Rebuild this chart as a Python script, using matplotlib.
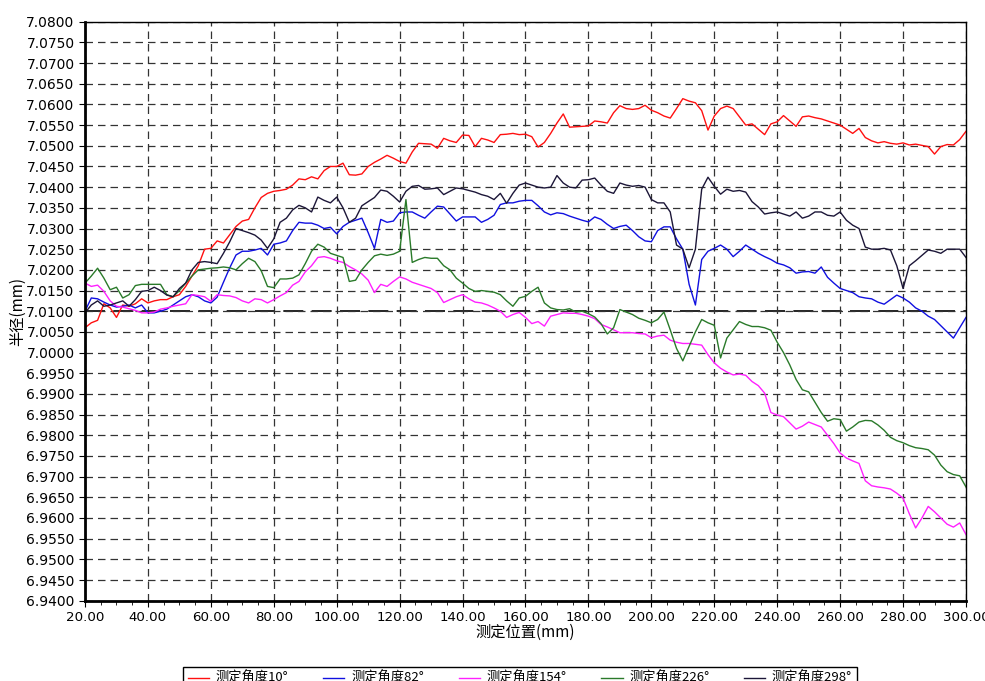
import numpy as np
import matplotlib
matplotlib.use('Agg')
import matplotlib.pyplot as plt
from matplotlib.ticker import MultipleLocator, FormatStrFormatter

plt.rcParams['font.family'] = ['DejaVu Sans', 'Noto Sans CJK SC']

# measuring position (mm), one sample every 2 mm
position = np.arange(20, 302, 2)

labels = ['测定角度10°', '测定角度82°', '测定角度154°', '测定角度226°', '测定角度298°']
colors = ['#ff1010', '#1010e0', '#ff20ff', '#2a7a2a', '#1c1638']

r10 = [7.0060, 7.0072, 7.0078, 7.0118, 7.0108, 7.0085, 7.0115, 7.0112, 7.0118, 7.0130,
       7.0120, 7.0125, 7.0128, 7.0128, 7.0135, 7.0140, 7.0160, 7.0185, 7.0210, 7.0250,
       7.0252, 7.0270, 7.0265, 7.0285, 7.0305, 7.0318, 7.0322, 7.0350, 7.0375, 7.0385,
       7.0390, 7.0392, 7.0395, 7.0405, 7.0420, 7.0418, 7.0425, 7.0420, 7.0440, 7.0450,
       7.0450, 7.0458, 7.0430, 7.0429, 7.0432, 7.0450, 7.0460, 7.0468, 7.0477, 7.0470,
       7.0462, 7.0458, 7.0485, 7.0506, 7.0505, 7.0504, 7.0494, 7.0518, 7.0512, 7.0508,
       7.0526, 7.0525, 7.0498, 7.0518, 7.0514, 7.0508, 7.0527, 7.0528, 7.0530, 7.0527,
       7.0528, 7.0522, 7.0497, 7.0508, 7.0530, 7.0555, 7.0577, 7.0545, 7.0546, 7.0547,
       7.0548, 7.0560, 7.0558, 7.0555, 7.0580, 7.0597, 7.0590, 7.0588, 7.0590, 7.0598,
       7.0586, 7.0580, 7.0572, 7.0567, 7.0590, 7.0614, 7.0608, 7.0604, 7.0585, 7.0538,
       7.0572, 7.0590, 7.0596, 7.0590, 7.0570, 7.0550, 7.0553, 7.0540, 7.0527, 7.0553,
       7.0558, 7.0573, 7.0560, 7.0547, 7.0570, 7.0572, 7.0568, 7.0565, 7.0560, 7.0555,
       7.0550, 7.0540, 7.0530, 7.0542, 7.0520, 7.0512, 7.0507, 7.0510, 7.0506, 7.0504,
       7.0507, 7.0502, 7.0504, 7.0501, 7.0498, 7.0480, 7.0498, 7.0503, 7.0502, 7.0515,
       7.0535]

r82 = [7.0100, 7.0132, 7.0130, 7.0122, 7.0115, 7.0110, 7.0112, 7.0115, 7.0108, 7.0115,
       7.0096, 7.0096, 7.0100, 7.0105, 7.0115, 7.0125, 7.0135, 7.0140, 7.0135, 7.0125,
       7.0120, 7.0134, 7.0170, 7.0205, 7.0236, 7.0245, 7.0245, 7.0248, 7.0252, 7.0236,
       7.0262, 7.0265, 7.0270, 7.0295, 7.0315, 7.0313, 7.0313, 7.0308, 7.0300, 7.0303,
       7.0287, 7.0305, 7.0315, 7.0320, 7.0325, 7.0290, 7.0252, 7.0322, 7.0315, 7.0318,
       7.0338, 7.0340, 7.0340, 7.0332, 7.0325, 7.0340, 7.0354, 7.0352, 7.0335, 7.0318,
       7.0328, 7.0328, 7.0328, 7.0315, 7.0322, 7.0332, 7.0358, 7.0362, 7.0362, 7.0366,
       7.0368, 7.0368, 7.0355, 7.0340, 7.0333, 7.0338, 7.0336, 7.0330, 7.0325, 7.0320,
       7.0316, 7.0328, 7.0322, 7.0310, 7.0300, 7.0305, 7.0308, 7.0295, 7.0280, 7.0270,
       7.0268, 7.0295, 7.0304, 7.0304, 7.0275, 7.0250, 7.0165, 7.0115, 7.0225, 7.0245,
       7.0252, 7.0260, 7.0250, 7.0232, 7.0245, 7.0260, 7.0250, 7.0240, 7.0232, 7.0225,
       7.0216, 7.0212, 7.0205, 7.0192, 7.0195, 7.0196, 7.0192, 7.0207, 7.0182, 7.0168,
       7.0155, 7.0150, 7.0145, 7.0135, 7.0132, 7.0130, 7.0122, 7.0117, 7.0128, 7.0139,
       7.0132, 7.0122, 7.0108, 7.0100, 7.0088, 7.0080, 7.0065, 7.0050, 7.0035, 7.0060,
       7.0085]

r154 = [7.0168, 7.0160, 7.0163, 7.0148, 7.0125, 7.0112, 7.0110, 7.0106, 7.0102, 7.0096,
        7.0096, 7.0098, 7.0105, 7.0108, 7.0112, 7.0115, 7.0118, 7.0140, 7.0138, 7.0135,
        7.0124, 7.0140, 7.0138, 7.0137, 7.0133, 7.0125, 7.0120, 7.0130, 7.0128, 7.0120,
        7.0128, 7.0137, 7.0145, 7.0163, 7.0172, 7.0195, 7.0210, 7.0230, 7.0232, 7.0228,
        7.0222, 7.0218, 7.0208, 7.0200, 7.0190, 7.0175, 7.0145, 7.0165, 7.0160, 7.0172,
        7.0183, 7.0178, 7.0170, 7.0165, 7.0160, 7.0155, 7.0145, 7.0121, 7.0128, 7.0135,
        7.0140, 7.0130, 7.0122, 7.0120, 7.0115, 7.0108, 7.0100, 7.0085, 7.0092, 7.0097,
        7.0085, 7.0070, 7.0075, 7.0064, 7.0088, 7.0092, 7.0096, 7.0095, 7.0095, 7.0092,
        7.0088, 7.0082, 7.0068, 7.0062, 7.0055, 7.0048, 7.0048, 7.0048, 7.0046, 7.0045,
        7.0036, 7.0040, 7.0042, 7.0030, 7.0025, 7.0022, 7.0022, 7.0020, 7.0018, 6.9995,
        6.9975, 6.9962, 6.9953, 6.9946, 6.9948, 6.9945, 6.9930, 6.9920, 6.9902, 6.9855,
        6.9849, 6.9845, 6.9830, 6.9815, 6.9822, 6.9832, 6.9826, 6.9820, 6.9800, 6.9780,
        6.9757, 6.9745, 6.9738, 6.9732, 6.9690, 6.9678, 6.9675, 6.9673, 6.9670, 6.9660,
        6.9648, 6.9610, 6.9576, 6.9600, 6.9628, 6.9615, 6.9600, 6.9585, 6.9578, 6.9588,
        6.9560]

r226 = [7.0168, 7.0185, 7.0204, 7.0180, 7.0152, 7.0158, 7.0132, 7.0140, 7.0162, 7.0165,
        7.0165, 7.0165, 7.0165, 7.0140, 7.0135, 7.0150, 7.0168, 7.0185, 7.0200, 7.0202,
        7.0204, 7.0205, 7.0207, 7.0205, 7.0200, 7.0215, 7.0228, 7.0220, 7.0198, 7.0160,
        7.0157, 7.0178, 7.0178, 7.0180, 7.0188, 7.0215, 7.0245, 7.0262, 7.0255, 7.0240,
        7.0235, 7.0230, 7.0172, 7.0175, 7.0200, 7.0218, 7.0234, 7.0238, 7.0235, 7.0238,
        7.0245, 7.0370, 7.0218, 7.0225, 7.0230, 7.0228, 7.0228, 7.0210, 7.0200, 7.0180,
        7.0168, 7.0155, 7.0148, 7.0150, 7.0148, 7.0146, 7.0140, 7.0125, 7.0112, 7.0132,
        7.0136, 7.0148, 7.0158, 7.0120, 7.0108, 7.0104, 7.0103, 7.0106, 7.0098, 7.0100,
        7.0094, 7.0086, 7.0070, 7.0045, 7.0060, 7.0104, 7.0098, 7.0092, 7.0083, 7.0078,
        7.0072, 7.0080, 7.0098, 7.0055, 7.0010, 6.9980, 7.0015, 7.0050, 7.0080, 7.0072,
        7.0066, 6.9987, 7.0035, 7.0055, 7.0075, 7.0068, 7.0063, 7.0063, 7.0060, 7.0054,
        7.0025, 7.0000, 6.9970, 6.9935, 6.9910, 6.9905, 6.9880, 6.9855, 6.9834, 6.9840,
        6.9838, 6.9810, 6.9820, 6.9832, 6.9836, 6.9835, 6.9825, 6.9812, 6.9795, 6.9787,
        6.9782, 6.9775, 6.9770, 6.9768, 6.9765, 6.9752, 6.9728, 6.9712, 6.9705, 6.9702,
        6.9675]

r298 = [7.0096, 7.0115, 7.0125, 7.0112, 7.0115, 7.0120, 7.0125, 7.0112, 7.0128, 7.0148,
        7.0150, 7.0158, 7.0150, 7.0139, 7.0135, 7.0155, 7.0168, 7.0200, 7.0218, 7.0220,
        7.0218, 7.0215, 7.0240, 7.0268, 7.0300, 7.0295, 7.0290, 7.0284, 7.0272, 7.0252,
        7.0275, 7.0315, 7.0325, 7.0345, 7.0356, 7.0350, 7.0340, 7.0376, 7.0368, 7.0362,
        7.0376, 7.0350, 7.0315, 7.0325, 7.0355, 7.0365, 7.0375, 7.0393, 7.0390, 7.0378,
        7.0364, 7.0390, 7.0402, 7.0404, 7.0395, 7.0396, 7.0398, 7.0382, 7.0390, 7.0398,
        7.0396, 7.0392, 7.0388, 7.0382, 7.0378, 7.0370, 7.0385, 7.0361, 7.0385, 7.0405,
        7.0410, 7.0405, 7.0400, 7.0398, 7.0400, 7.0428, 7.0410, 7.0400, 7.0398, 7.0417,
        7.0418, 7.0422, 7.0405, 7.0390, 7.0385, 7.0410, 7.0405, 7.0402, 7.0404, 7.0400,
        7.0370, 7.0362, 7.0362, 7.0340, 7.0260, 7.0250, 7.0205, 7.0250, 7.0395, 7.0424,
        7.0402, 7.0383, 7.0395, 7.0390, 7.0392, 7.0388, 7.0365, 7.0352, 7.0335, 7.0338,
        7.0340, 7.0335, 7.0330, 7.0340, 7.0325, 7.0330, 7.0340, 7.0340, 7.0332, 7.0330,
        7.0340, 7.0320, 7.0308, 7.0300, 7.0255, 7.0250, 7.0250, 7.0252, 7.0248, 7.0210,
        7.0155, 7.0210, 7.0222, 7.0235, 7.0248, 7.0245, 7.0240, 7.0250, 7.0250, 7.0250,
        7.0230]

series = [r10, r82, r154, r226, r298]
nominal = 7.0100

fig = plt.figure(figsize=(9.85, 6.81), dpi=100)
ax = fig.add_axes([0.0863, 0.1179, 0.8944, 0.8502])

for vals, lab, col in zip(series, labels, colors):
    ax.plot(position, vals, color=col, lw=1.0, label=lab)

# nominal radius reference line
ax.axhline(nominal, color='black', lw=1.2, dashes=(12, 5), zorder=1.5)

ax.set_xlim(20, 300)
ax.set_ylim(6.94, 7.08)
ax.xaxis.set_major_locator(MultipleLocator(20))
ax.xaxis.set_minor_locator(MultipleLocator(5))
ax.yaxis.set_major_locator(MultipleLocator(0.005))
ax.xaxis.set_major_formatter(FormatStrFormatter('%.2f'))
ax.yaxis.set_major_formatter(FormatStrFormatter('%.4f'))
ax.tick_params(axis='both', which='major', direction='out', length=4, labelsize=10, colors='black')
ax.tick_params(axis='x', which='major', labelsize=9.6)
ax.tick_params(axis='x', which='minor', direction='out', length=3)
ax.grid(True, which='major', color='#333333', lw=0.9, dashes=(6, 4))

for side in ['left', 'bottom']:
    ax.spines[side].set_linewidth(2.0)
for side in ['top', 'right']:
    ax.spines[side].set_linewidth(1.0)

ax.set_xlabel('测定位置(mm)', fontsize=11, family=['Noto Sans CJK SC', 'DejaVu Sans'], labelpad=0)
ax.set_ylabel('半径(mm)', fontsize=11, family=['Noto Sans CJK SC', 'DejaVu Sans'], labelpad=0)

leg = fig.legend(loc='upper center', bbox_to_anchor=(0.528, 0.021), ncol=5,
                 fancybox=False, edgecolor='black', framealpha=1,
                 prop={'family': ['Noto Sans CJK SC', 'DejaVu Sans'], 'size': 9.5},
                 handlelength=1.6, handletextpad=0.5, columnspacing=2.65, borderaxespad=0)
leg.get_frame().set_linewidth(1.0)

fig.savefig('out.png', dpi=100)
